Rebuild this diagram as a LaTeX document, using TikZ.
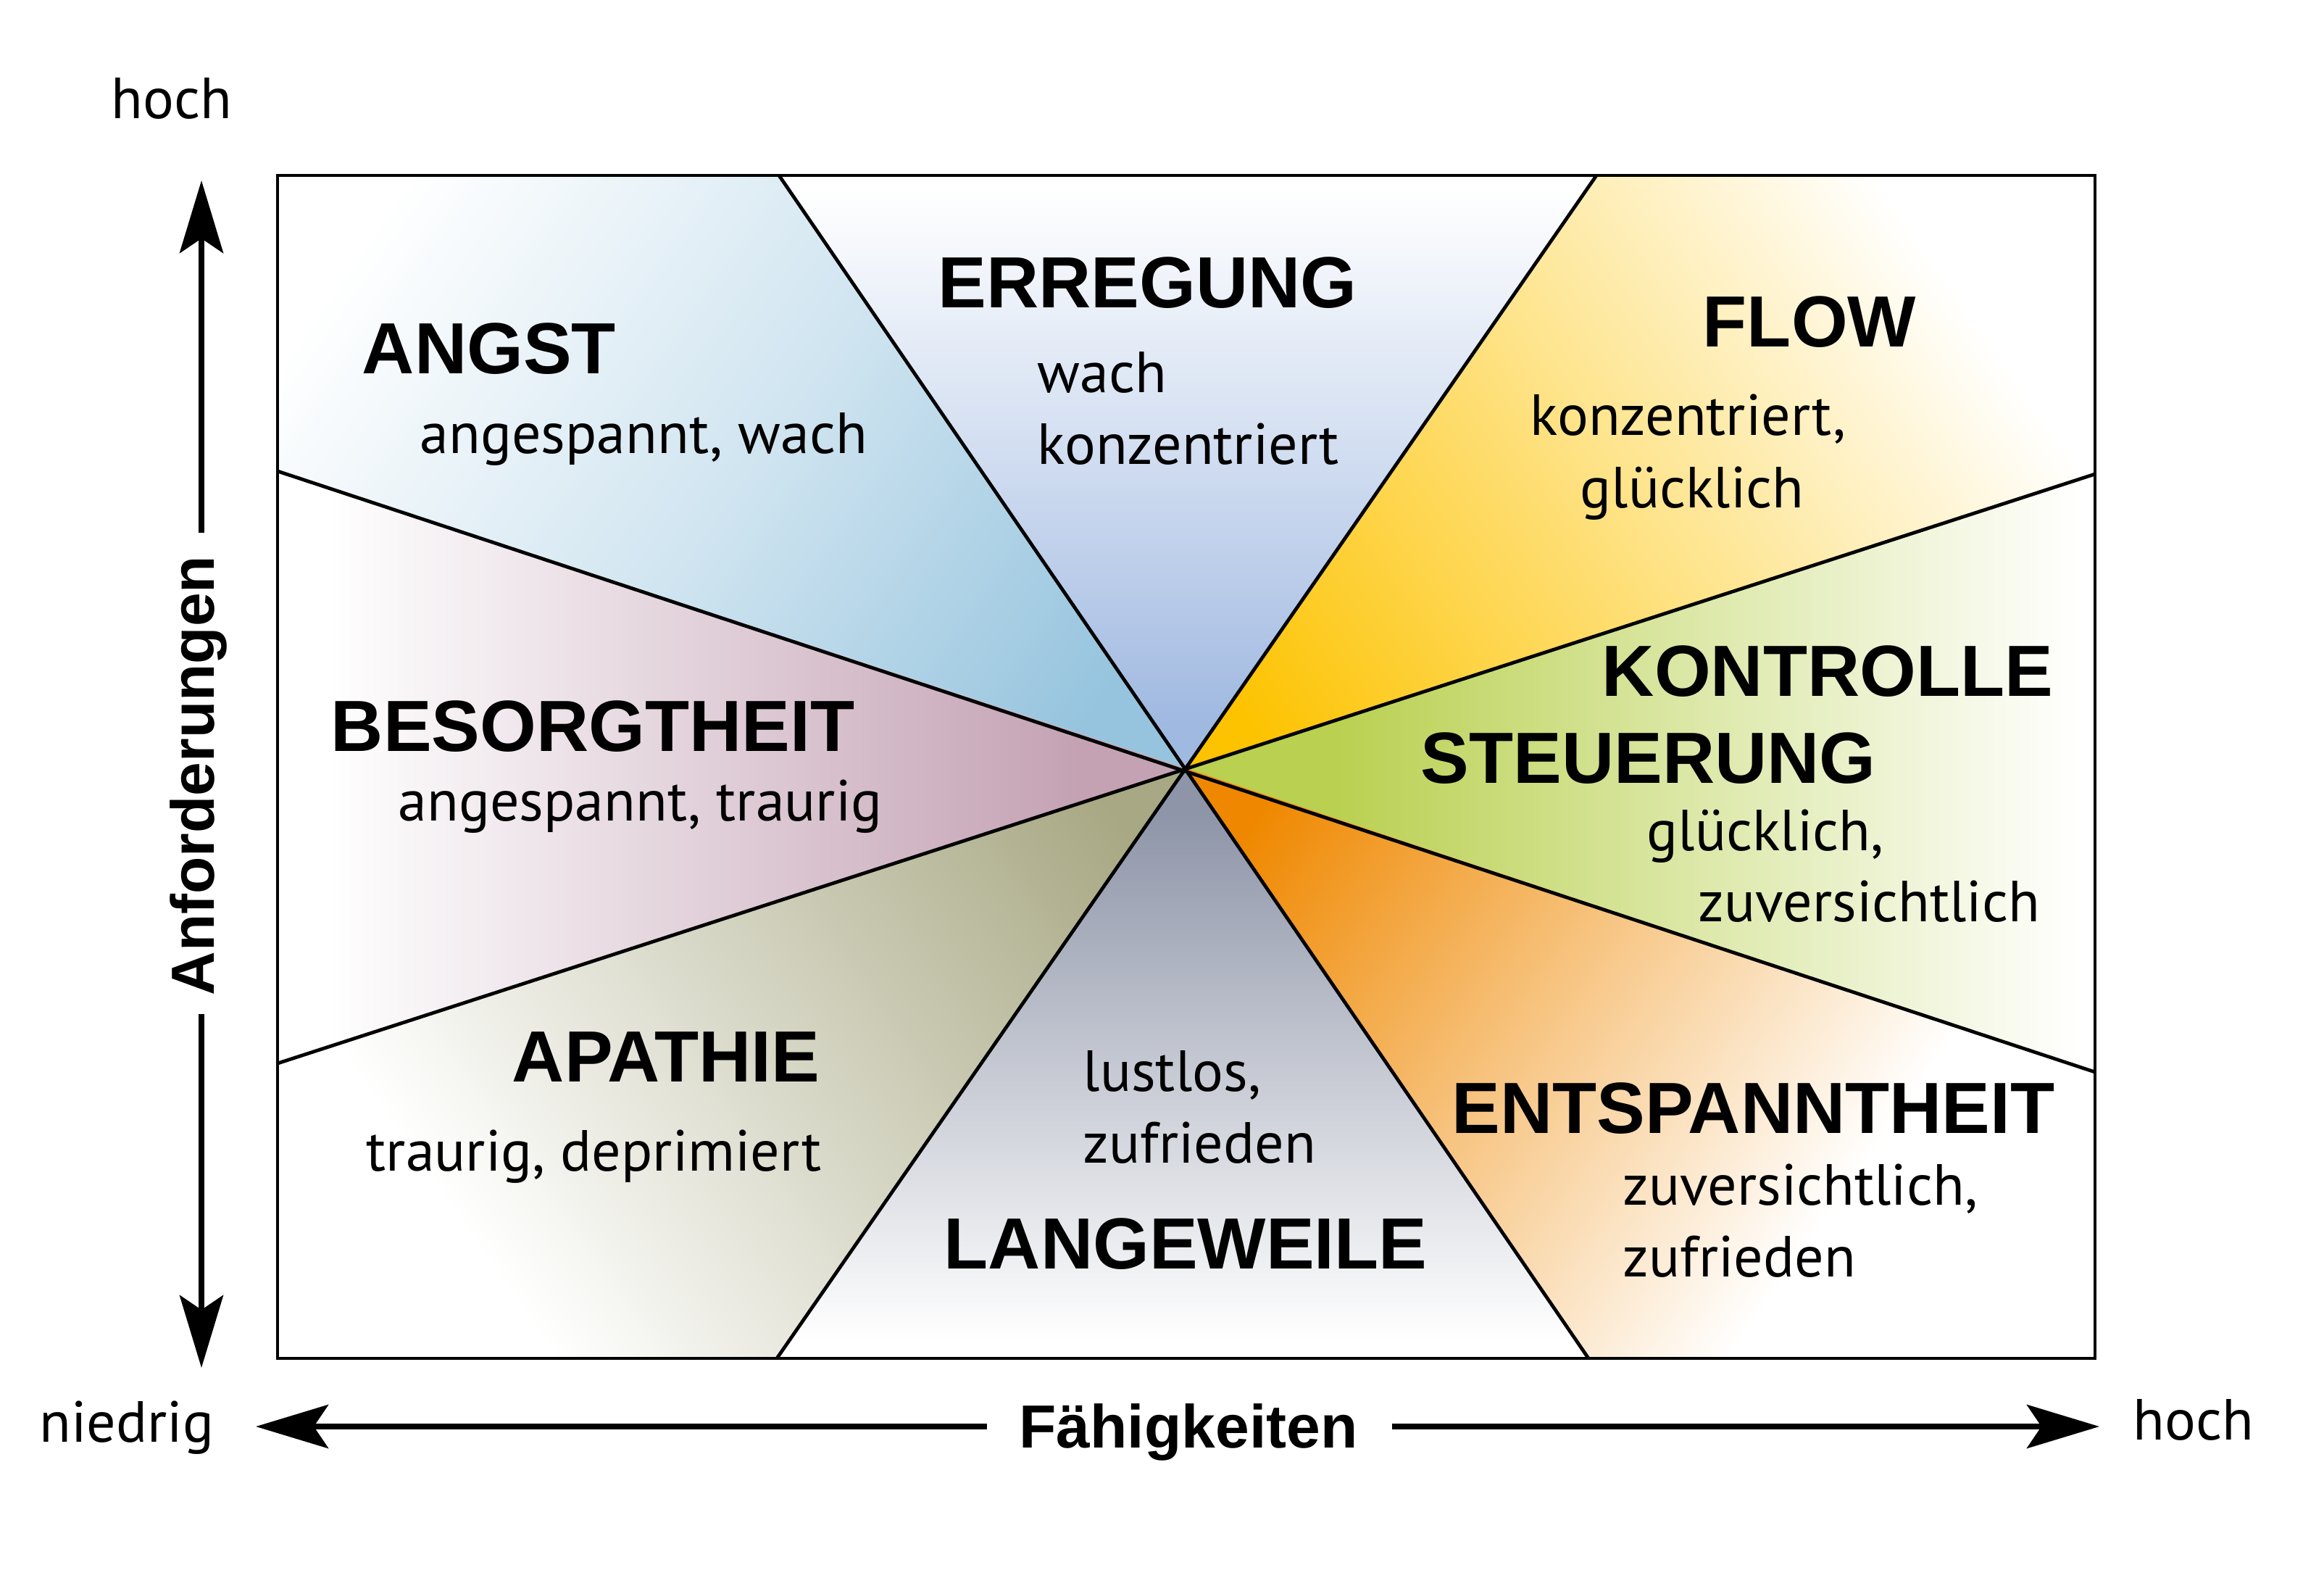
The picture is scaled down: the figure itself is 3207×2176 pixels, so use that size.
\documentclass[tikz,border=0pt]{standalone}
\usepackage{fontspec}
\setmainfont{PT Sans}
\newfontfamily\headfont{Liberation Sans}
\usetikzlibrary{arrows.meta}

\definecolor{cAngst}{RGB}{150,196,222}
\definecolor{cErreg}{RGB}{160,185,225}
\definecolor{cFlow}{RGB}{253,195,0}
\definecolor{cKontr}{RGB}{185,208,80}
\definecolor{cEntsp}{RGB}{239,136,0}
\definecolor{cLang}{RGB}{142,149,168}
\definecolor{cApath}{RGB}{168,168,132}
\definecolor{cBesorg}{RGB}{196,162,180}

\pgfdeclarehorizontalshading{shAngst}{100bp}{color(0bp)=(cAngst); color(52.7bp)=(cAngst); color(63bp)=(cAngst!45!white); color(74.1bp)=(white); color(100bp)=(white)}
\pgfdeclarehorizontalshading{shErreg}{100bp}{color(0bp)=(cErreg); color(51.1bp)=(cErreg); color(57.5bp)=(cErreg!50!white); color(64.3bp)=(white); color(100bp)=(white)}
\pgfdeclarehorizontalshading{shFlow}{100bp}{color(0bp)=(cFlow); color(51.8bp)=(cFlow); color(62bp)=(cFlow!50!white); color(72.3bp)=(white); color(100bp)=(white)}
\pgfdeclarehorizontalshading{shKontr}{100bp}{color(0bp)=(cKontr); color(53.6bp)=(cKontr); color(62.5bp)=(cKontr!50!white); color(72bp)=(white); color(100bp)=(white)}
\pgfdeclarehorizontalshading{shEntsp}{100bp}{color(0bp)=(cEntsp); color(52.1bp)=(cEntsp); color(60.5bp)=(cEntsp!50!white); color(69.3bp)=(white); color(100bp)=(white)}
\pgfdeclarehorizontalshading{shLang}{100bp}{color(0bp)=(cLang); color(51.1bp)=(cLang); color(57.5bp)=(cLang!50!white); color(64.1bp)=(white); color(100bp)=(white)}
\pgfdeclarehorizontalshading{shApath}{100bp}{color(0bp)=(cApath); color(52.1bp)=(cApath); color(61.5bp)=(cApath!50!white); color(71.1bp)=(white); color(100bp)=(white)}
\pgfdeclarehorizontalshading{shBesorg}{100bp}{color(0bp)=(cBesorg); color(52.7bp)=(cBesorg); color(62bp)=(cBesorg!50!white); color(71.1bp)=(white); color(100bp)=(white)}

\tikzset{
  headtxt/.style={font=\headfont\bfseries\fontsize{25}{30}\selectfont, anchor=base west, inner sep=0pt},
  bodytxt/.style={font=\fontsize{20}{24}\selectfont, anchor=base west, inner sep=0pt},
  axislbl/.style={font=\headfont\bfseries\fontsize{21}{25}\selectfont, inner sep=0pt},
  ray/.style={line width=1.2pt, black},
  frame/.style={line width=0.9pt, black},
  axisarrow/.style={line width=2pt, -{Stealth[length=25pt,width=15pt,inset=5pt]}},
}

\begin{document}
\begin{tikzpicture}[x=0.25pt,y=-0.25pt]
\useasboundingbox[fill=white] (0,0) rectangle (3207,2176);

% key points
\coordinate (O) at (1637,1060);
\coordinate (P1) at (1075,242);
\coordinate (P2) at (2203,242);
\coordinate (P3) at (2891,654);
\coordinate (P4) at (2891,1479);
\coordinate (P5) at (2192,1874);
\coordinate (P6) at (1072,1874);
\coordinate (P7) at (383,1467);
\coordinate (P8) at (383,650);
\coordinate (TL) at (383,242);
\coordinate (TR) at (2891,242);
\coordinate (BR) at (2891,1874);
\coordinate (BL) at (383,1874);

% wedges
\begin{scope}
\clip (O) -- (P8) -- (TL) -- (P1) -- cycle;
\shade[shading=shAngst, shading angle=145] (237,-340) rectangle (3037,2460);
\end{scope}
\begin{scope}
\clip (O) -- (P1) -- (P2) -- cycle;
\shade[shading=shErreg, shading angle=90] (237,-340) rectangle (3037,2460);
\end{scope}
\begin{scope}
\clip (O) -- (P2) -- (TR) -- (P3) -- cycle;
\shade[shading=shFlow, shading angle=35] (237,-340) rectangle (3037,2460);
\end{scope}
\begin{scope}
\clip (O) -- (P3) -- (P4) -- cycle;
\shade[shading=shKontr, shading angle=0] (237,-340) rectangle (3037,2460);
\end{scope}
\begin{scope}
\clip (O) -- (P4) -- (BR) -- (P5) -- cycle;
\shade[shading=shEntsp, shading angle=-35] (237,-340) rectangle (3037,2460);
\end{scope}
\begin{scope}
\clip (O) -- (P5) -- (P6) -- cycle;
\shade[shading=shLang, shading angle=-90] (237,-340) rectangle (3037,2460);
\end{scope}
\begin{scope}
\clip (O) -- (P6) -- (BL) -- (P7) -- cycle;
\shade[shading=shApath, shading angle=-145] (237,-340) rectangle (3037,2460);
\end{scope}
\begin{scope}
\clip (O) -- (P7) -- (P8) -- cycle;
\shade[shading=shBesorg, shading angle=180] (237,-340) rectangle (3037,2460);
\end{scope}

% rays
\draw[ray] (P1) -- (P5);
\draw[ray] (P2) -- (P6);
\draw[ray] (P8) -- (P4);
\draw[ray] (P3) -- (P7);

% frame
\draw[frame] (TL) rectangle (BR);

% headings
\node[headtxt] (hAngst) at (499,515) {ANGST};
\node[headtxt] (hErreg) at (1294,424) {ERREGUNG};
\node[headtxt] (hFlow) at (2349,478) {FLOW};
\node[headtxt] (hKontr) at (2210,960) {KONTROLLE};
\node[headtxt] (hSteu) at (1960,1080) {STEUERUNG};
\node[headtxt] (hBesorg) at (456,1036) {BESORGTHEIT};
\node[headtxt] (hApath) at (706,1492) {APATHIE};
\node[headtxt] (hLang) at (1302,1750) {LANGEWEILE};
\node[headtxt] (hEntsp) at (2003,1563) {ENTSPANNTHEIT};

% descriptions
\node[bodytxt] (tAngst) at (579,625) {angespannt, wach};
\node[bodytxt] (tErreg1) at (1431,541) {wach};
\node[bodytxt] (tErreg2) at (1431,640) {konzentriert};
\node[bodytxt] (tFlow1) at (2111,600) {konzentriert,};
\node[bodytxt] (tFlow2) at (2180,700) {glücklich};
\node[bodytxt] (tKontr1) at (2272,1173) {glücklich,};
\node[bodytxt] (tKontr2) at (2343,1271) {zuversichtlich};
\node[bodytxt] (tBesorg) at (549,1132) {angespannt, traurig};
\node[bodytxt] (tApath) at (505,1615) {traurig, deprimiert};
\node[bodytxt] (tLang1) at (1494,1505) {lustlos,};
\node[bodytxt] (tLang2) at (1494,1604) {zufrieden};
\node[bodytxt] (tEntsp1) at (2239,1662) {zuversichtlich,};
\node[bodytxt] (tEntsp2) at (2239,1761) {zufrieden};

% axis labels
\node[bodytxt, anchor=base east] (yHigh) at (321,163) {hoch};
\node[bodytxt, anchor=base east] (xLow) at (296,1989) {niedrig};
\node[bodytxt] (xHigh) at (2943,1986) {hoch};
\node[axislbl, anchor=base] (xLab) at (1640,1997) {Fähigkeiten};
\node[axislbl, anchor=base, rotate=90] (yLab) at (295,1070) {Anforderungen};

% axis arrows
\coordinate (yUpS) at (278,735);
\coordinate (yUpE) at (278,249);
\coordinate (yDnS) at (278,1399);
\coordinate (yDnE) at (278,1887);
\coordinate (xLS) at (1362,1968);
\coordinate (xLE) at (353,1968);
\coordinate (xRS) at (1921,1968);
\coordinate (xRE) at (2897,1968);
\draw[axisarrow] (yUpS) -- (yUpE);
\draw[axisarrow] (yDnS) -- (yDnE);
\draw[axisarrow] (xLS) -- (xLE);
\draw[axisarrow] (xRS) -- (xRE);
\end{tikzpicture}
\end{document}
